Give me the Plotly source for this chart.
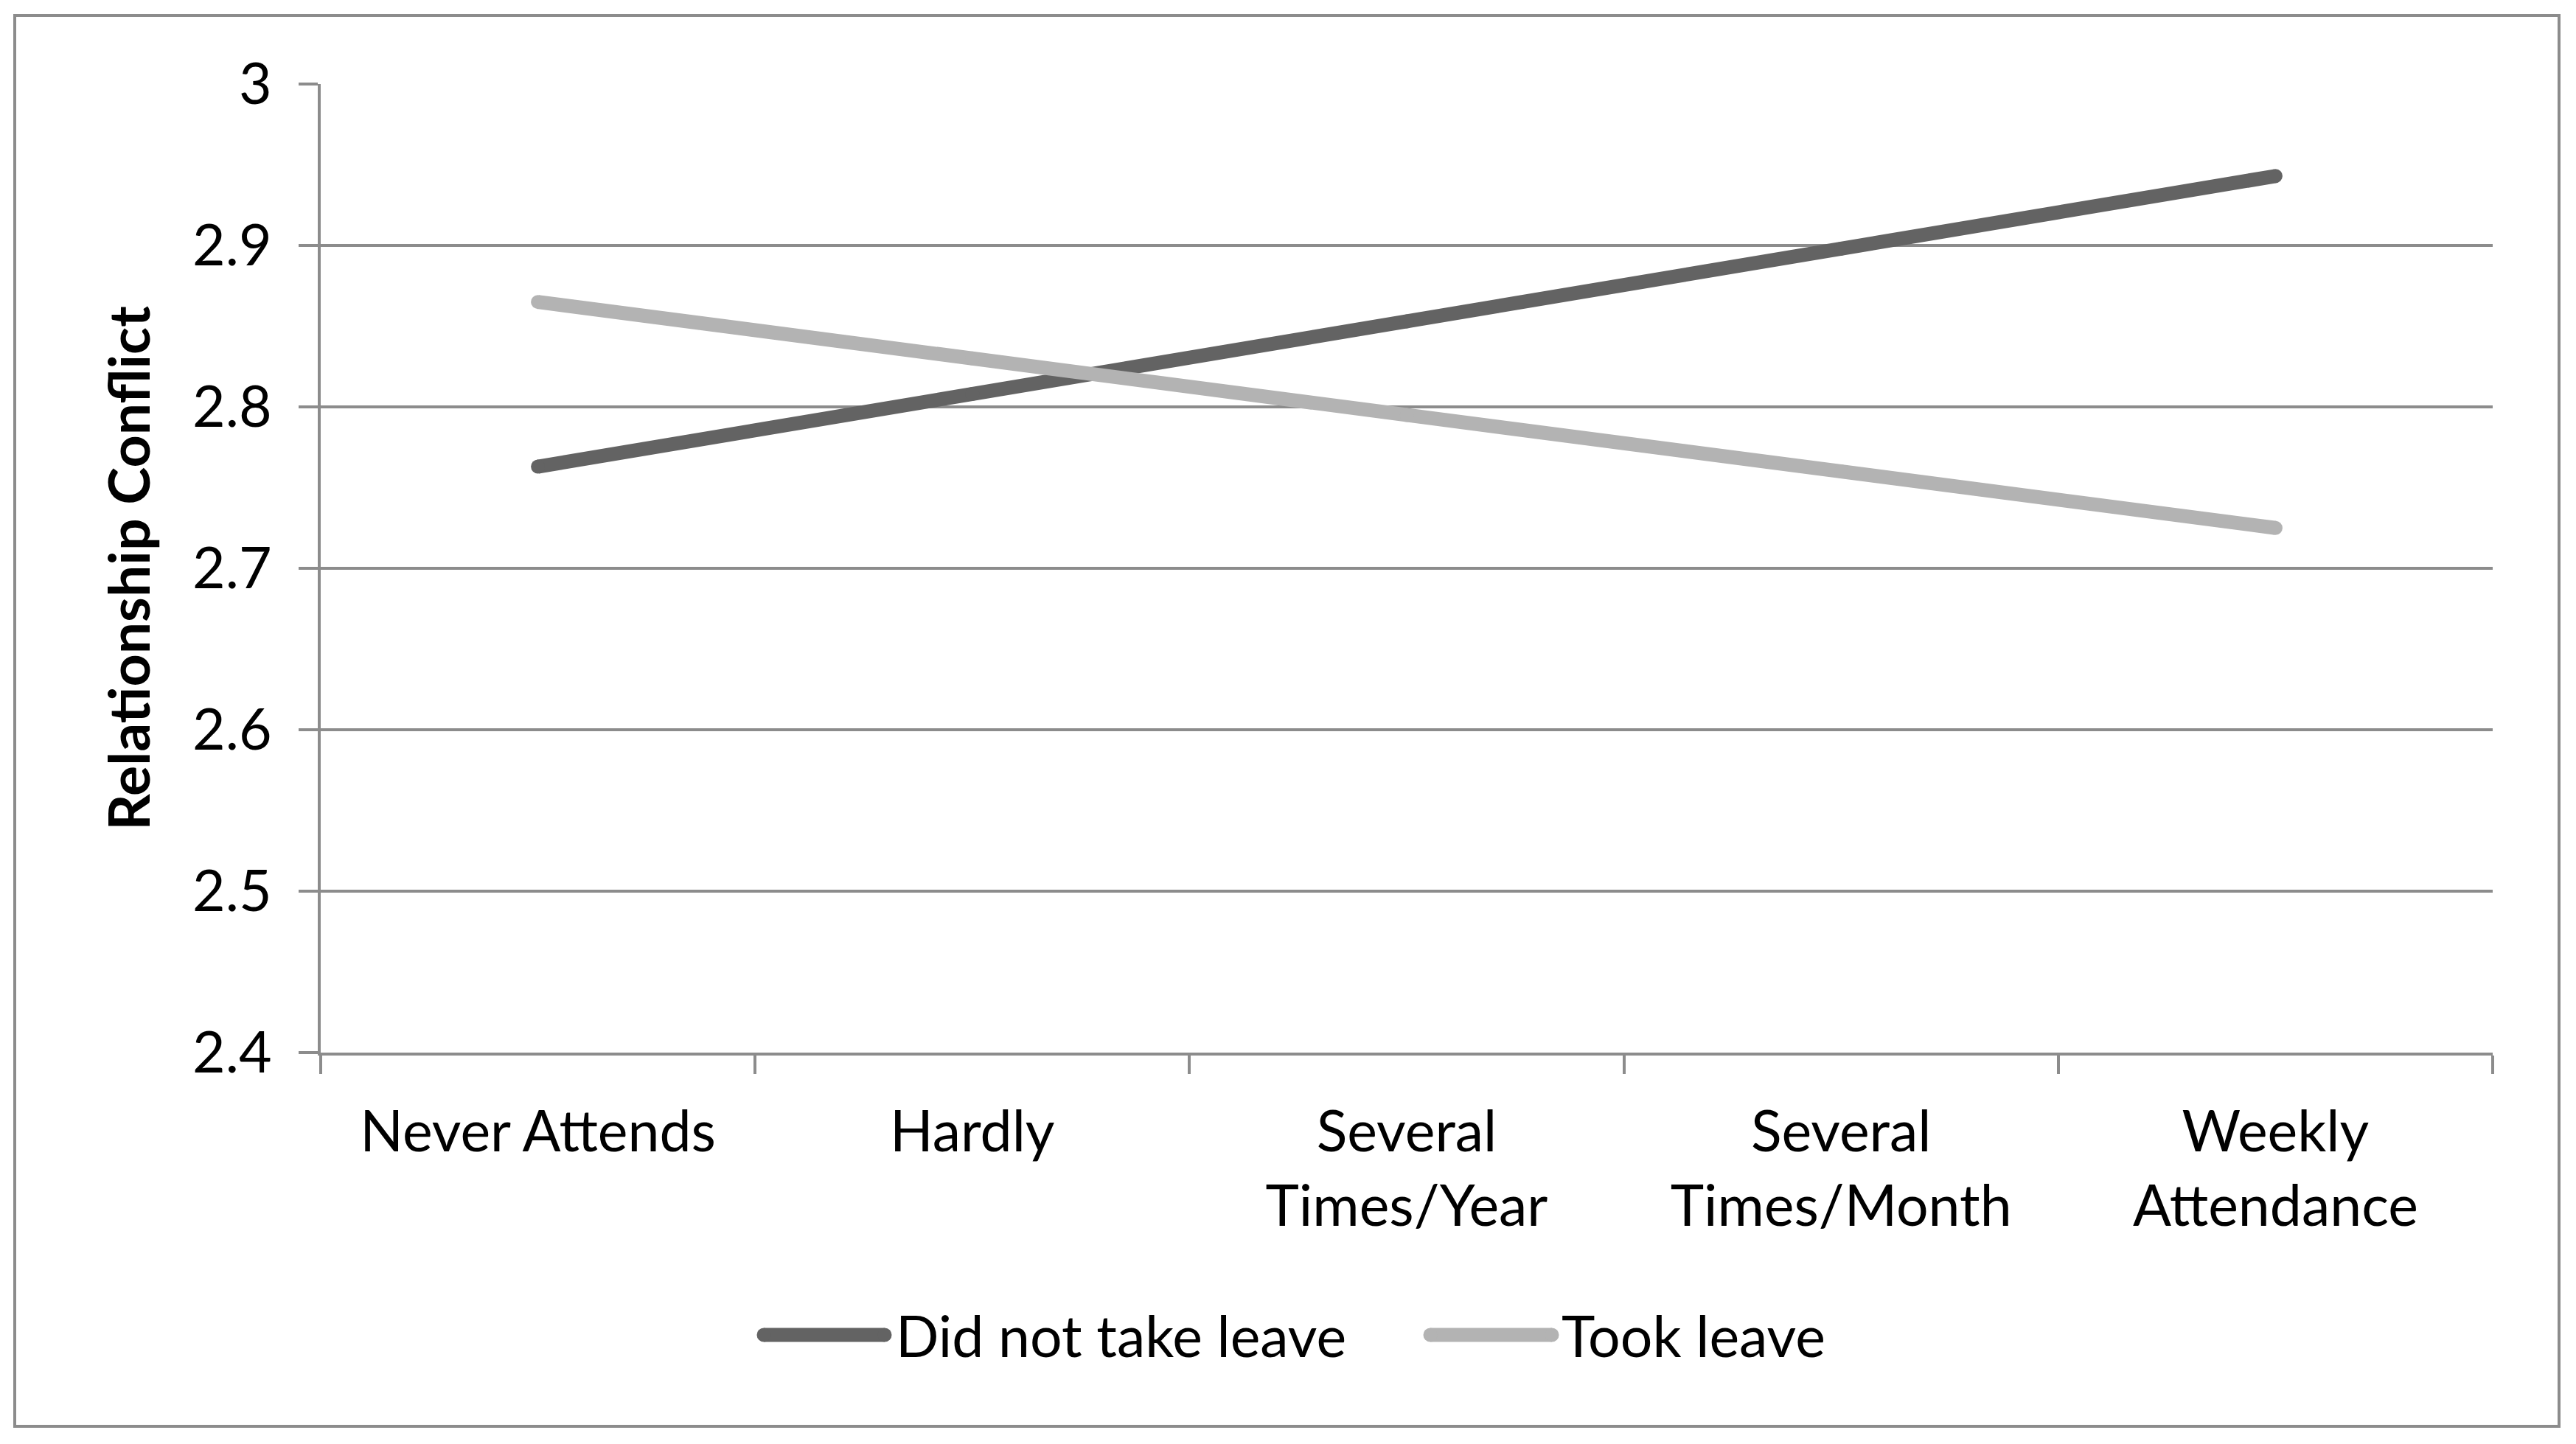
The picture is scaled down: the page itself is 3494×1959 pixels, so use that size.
import plotly.graph_objects as go

categories = ["Never Attends", "Hardly", "Several<br>Times/Year", "Several<br>Times/Month", "Weekly<br>Attendance"]
did_not_take_leave = [2.763, 2.808, 2.853, 2.898, 2.943]
took_leave = [2.865, 2.830, 2.795, 2.760, 2.725]
series_names = ["Did not take leave", "Took leave"]
y_ticks = [2.4, 2.5, 2.6, 2.7, 2.8, 2.9, 3.0]
y_tick_text = ["2.4", "2.5", "2.6", "2.7", "2.8", "2.9", "3"]

W, H = 3494, 1959
OFF = 8  # page body margin offset
L, R, T, B = 435 - OFF, 3381 - OFF, 114 - OFF, 1428 - OFF
FONT = "Lato"
FS = 77
DARK = "#636363"
LIGHT = "#b3b3b3"
GRID = "#8c8c8c"
LW = 19

fig = go.Figure()
for name, vals, col in [(series_names[0], did_not_take_leave, DARK), (series_names[1], took_leave, LIGHT)]:
    fig.add_trace(go.Scatter(
        x=categories, y=vals, name=name, mode="lines+markers",
        line=dict(color=col, width=LW),
        marker=dict(color=col, size=LW, line=dict(width=0)),
        showlegend=False,
    ))

def px2paper(X, Y):
    X -= OFF
    Y -= OFF
    return (X - L) / (R - L), (B - Y) / (B - T)

shapes = []
bx0, by0 = px2paper(20, 1935)
bx1, by1 = px2paper(3471, 21)
shapes.append(dict(type="rect", xref="paper", yref="paper", x0=bx0, y0=by0, x1=bx1, y1=by1,
                   line=dict(color=GRID, width=4), layer="below"))

annotations = []
legend_items = [(series_names[0], DARK, 1036, 1200, 1213), (series_names[1], LIGHT, 1940, 2105, 2116)]
for name, col, xs, xe, xt in legend_items:
    x0p, yp = px2paper(xs, 1811)
    x1p, _ = px2paper(xe, 1811)
    shapes.append(dict(type="line", xref="paper", yref="paper", x0=x0p, x1=x1p, y0=yp, y1=yp,
                       line=dict(color=col, width=LW)))
    for xc in (x0p, x1p):
        shapes.append(dict(type="circle", xref="paper", yref="paper", xsizemode="pixel", ysizemode="pixel",
                           xanchor=xc, yanchor=yp, x0=-LW/2, x1=LW/2, y0=-LW/2, y1=LW/2,
                           fillcolor=col, line=dict(width=0)))
    xtp, _ = px2paper(xt, 1811)
    annotations.append(dict(text=name, xref="paper", yref="paper", x=xtp, y=yp, xanchor="left", yanchor="middle",
                            showarrow=False, font=dict(family=FONT, size=FS, color="#000000")))

fig.update_layout(
    width=W, height=H,
    margin=dict(l=L, r=W - R, t=T, b=H - B, pad=0),
    paper_bgcolor="white", plot_bgcolor="white",
    font=dict(family=FONT, size=FS, color="#000000"),
    shapes=shapes, annotations=annotations,
    showlegend=False,
)
fig.update_xaxes(
    type="category", range=[-0.5, 4.5], showgrid=False,
    showline=True, linecolor=GRID, linewidth=4,
    ticks="outside", tickson="boundaries", ticklen=25, tickwidth=4, tickcolor=GRID,
    tickfont=dict(family=FONT, size=FS, color="#000000"), ticklabelstandoff=38,
)
fig.update_yaxes(
    range=[2.4, 3.0], tickvals=y_ticks, ticktext=y_tick_text,
    showgrid=True, gridcolor=GRID, gridwidth=4,
    showline=True, linecolor=GRID, linewidth=4,
    ticks="outside", ticklen=26, tickwidth=4, tickcolor=GRID,
    tickfont=dict(family=FONT, size=FS, color="#000000"), ticklabelstandoff=21,
    zeroline=False,
    title=dict(text="<b>Relationship Conflict</b>", font=dict(family=FONT, size=FS, color="#000000"), standoff=33),
)

fig.write_html("out.html")
